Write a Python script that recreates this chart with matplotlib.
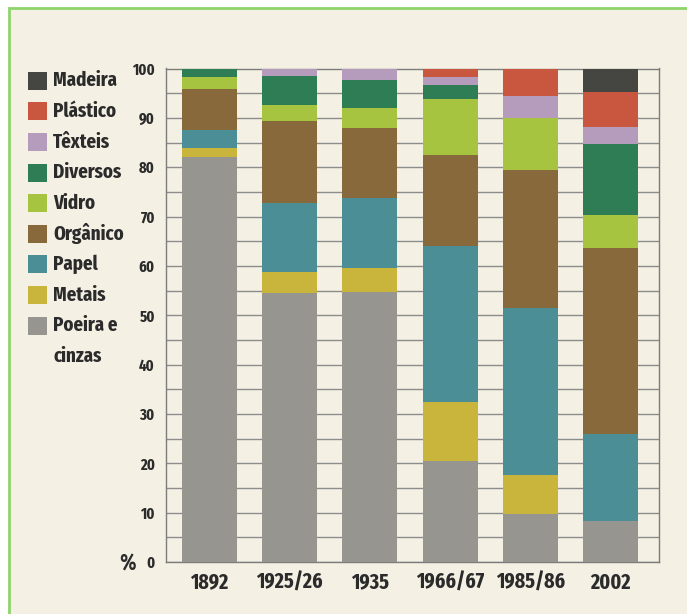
import matplotlib
matplotlib.use("Agg")
import matplotlib.pyplot as plt
from matplotlib.patches import Rectangle
import numpy as np

# ---- data ----
periods = ["1892", "1925/26", "1935", "1966/67", "1985/86", "2002"]
# stacked bottom -> top
poeira    = [82.0, 54.6, 54.8, 20.5,  9.8,  8.4]
metais    = [ 1.8,  4.2,  4.7, 12.0,  7.8,  0.0]
papel     = [ 3.7, 14.0, 14.3, 31.6, 33.9, 17.5]
organico  = [ 8.4, 16.6, 14.2, 18.3, 27.9, 37.8]
vidro     = [ 2.3,  3.2,  4.0, 11.5, 10.6,  6.7]
diversos  = [ 1.8,  5.9,  5.6,  2.7,  0.0, 14.3]
texteis   = [ 0.0,  1.5,  2.4,  1.7,  4.4,  3.5]
plastico  = [ 0.0,  0.0,  0.0,  1.7,  5.6,  7.1]
madeira   = [ 0.0,  0.0,  0.0,  0.0,  0.0,  4.7]

series_names = ["Poeira e\ncinzas", "Metais", "Papel", "Orgânico", "Vidro",
                "Diversos", "Têxteis", "Plástico", "Madeira"]
series_values = [poeira, metais, papel, organico, vidro,
                 diversos, texteis, plastico, madeira]
series_colors = ["#979590", "#c9b53c", "#4b8e96", "#87693c", "#a6c43f",
                 "#2f7d54", "#b69cbc", "#c9573f", "#454541"]
yticks = [0, 10, 20, 30, 40, 50, 60, 70, 80, 90, 100]

FONT = ["Fira Sans Extra Condensed", "Barlow Condensed", "DejaVu Sans"]
WEIGHT = "bold"
TXT = "#2b2b2b"
CREAM = "#f4f1e4"

W, H = 687, 614
fig = plt.figure(figsize=(W / 100, H / 100), dpi=100, facecolor="white")

# cream panel with green frame
fig.add_artist(Rectangle((9 / W, -0.01), 1.02 - 9 / W, 1 - 8 / H + 0.01,
                         transform=fig.transFigure, facecolor=CREAM,
                         edgecolor="#8fd46b", linewidth=2.0, zorder=0))

ax = fig.add_axes([166 / W, 1 - 562 / H, (659 - 166) / W, (562 - 68.5) / H])
ax.set_facecolor("none")

x = np.arange(len(periods))
bottom = np.zeros(len(periods))
for vals, col in zip(series_values, series_colors):
    v = np.array(vals)
    ax.bar(x, v, bottom=bottom, width=0.685, color=col, linewidth=0, zorder=3)
    bottom += v

ax.set_xlim(-0.54, 5.6)
ax.set_ylim(0, 100)
ax.set_yticks(yticks)
ax.set_yticks(np.arange(0, 101, 5), minor=True)
ax.yaxis.grid(True, which="both", color="#8c8c8c", linewidth=1.0, zorder=1)
ax.set_axisbelow(True)
ax.set_xticks(x)
ax.set_xticklabels(periods)
ax.tick_params(axis="both", which="both", length=0)
ax.tick_params(axis="y", pad=8)
ax.tick_params(axis="x", pad=7)
for lab in ax.get_yticklabels():
    lab.set_family(FONT); lab.set_fontweight(WEIGHT); lab.set_fontsize(11.5); lab.set_color(TXT)
for lab in ax.get_xticklabels():
    lab.set_family(FONT); lab.set_fontweight(WEIGHT); lab.set_fontsize(15.5); lab.set_color(TXT)
for s in ax.spines.values():
    s.set_color("#7c7c7c")
    s.set_linewidth(1.0)

fig.text(128 / W, 1 - 564 / H, "%", family=FONT, fontweight="semibold",
         fontsize=16.5, color=TXT, ha="center", va="center")

# legend (top -> bottom)
leg_y0 = 80.8
leg_dy = 30.6
for i, (name, col) in enumerate(zip(series_names[::-1], series_colors[::-1])):
    yc = leg_y0 + i * leg_dy
    fig.add_artist(Rectangle((28 / W, 1 - (yc + 9) / H), 19 / W, 18 / H,
                             transform=fig.transFigure, facecolor=col,
                             edgecolor="none", zorder=2))
    parts = name.split("\n")
    for k, part in enumerate(parts):
        fig.text(53 / W, 1 - (yc + k * leg_dy) / H, part, family=FONT,
                 fontweight=WEIGHT, fontsize=14.8, color=TXT, ha="left", va="center")

fig.savefig("out.png", dpi=100, facecolor=fig.get_facecolor())
